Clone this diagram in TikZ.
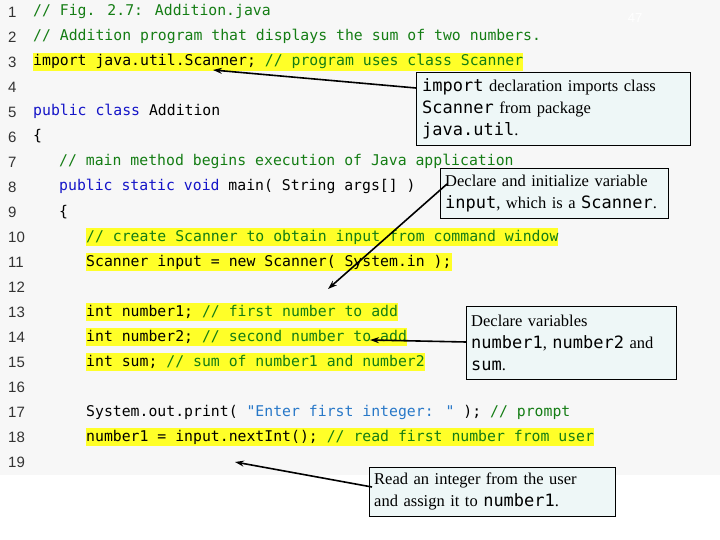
\documentclass[tikz,border=0pt]{standalone}
\usepackage{fontspec}
\setmainfont{Liberation Serif}
\newfontfamily\code{DejaVu Sans Mono}
\newfontfamily\lnf{Liberation Sans}
\usetikzlibrary{arrows.meta}
\definecolor{cbg}{RGB}{247,247,247}
\definecolor{cgreen}{RGB}{20,125,20}
\definecolor{cblue}{RGB}{20,20,200}
\definecolor{cstr}{RGB}{40,120,200}
\definecolor{hl}{RGB}{255,255,40}
\definecolor{boxbg}{RGB}{238,247,247}
\begin{document}
\begin{tikzpicture}[x=1pt,y=-1pt,
  ln/.style={anchor=west,font=\lnf\fontsize{15}{15}\selectfont,text=black!80,inner sep=0},
  cl/.style={anchor=west,font=\code\fontsize{14.8}{14}\selectfont,inner xsep=0,inner ysep=2pt,text height=11pt,text depth=3pt},
  hi/.style={cl,fill=hl},
  callout/.style={draw=black,fill=boxbg,align=left,anchor=north west,inner sep=5pt,font=\fontsize{16.5}{22}\selectfont},
  arr/.style={line width=1.6pt,-{Stealth[length=9pt,width=6pt]}}]
\newcommand\mc[1]{{\code\fontsize{17}{20}\selectfont #1}}
\useasboundingbox (0,0) rectangle (720,540);
\fill[cbg] (0,0) rectangle (720,475);
\node[text=white,font=\lnf\fontsize{13}{13}\selectfont] (pg) at (635,18) {47};
\foreach \i in {1,...,19} {\node[ln] (l\i) at (8,{12+25*(\i-1)}) {\i};}
\node[cl,text=cgreen] (c1) at (33,12) {// Fig. 2.7: Addition.java};
\node[cl,text=cgreen] (c2) at (33,37) {// Addition program that displays the sum of two numbers.};
\node[hi] (c3) at (33,62) {import java.util.Scanner; \textcolor{cgreen}{// program uses class Scanner}};
\node[cl] (c5) at (33,112) {\textcolor{cblue}{public class} Addition};
\node[cl] (c6) at (33,137) {\{};
\node[cl,text=cgreen] (c7) at (59,162) {// main method begins execution of Java application};
\node[cl] (c8) at (59,187) {\textcolor{cblue}{public static void} main( String args[] )};
\node[cl] (c9) at (59,212) {\{};
\node[hi,text=cgreen] (c10) at (86,237) {// create Scanner to obtain input from command window};
\node[hi] (c11) at (86,262) {Scanner input = new Scanner( System.in );};
\node[hi] (c13) at (86,312) {int number1; \textcolor{cgreen}{// first number to add}};
\node[hi] (c14) at (86,337) {int number2; \textcolor{cgreen}{// second number to add}};
\node[hi] (c15) at (86,362) {int sum; \textcolor{cgreen}{// sum of number1 and number2}};
\node[cl] (c17) at (86,412) {System.out.print( \textcolor{cstr}{"Enter first integer: "} ); \textcolor{cgreen}{// prompt}};
\node[hi] (c18) at (86,437) {number1 = input.nextInt(); \textcolor{cgreen}{// read first number from user}};
\node[callout,minimum width=274pt,minimum height=73pt,text width=262pt,inner ysep=3pt] (b1) at (416,72)
  {\mc{import} declaration imports class\\\mc{Scanner} from package\\\mc{java.util}.};
\node[callout,minimum width=228pt,minimum height=50pt,text width=218pt,inner ysep=3pt] (b2) at (440,168)
  {Declare and initialize variable\\\mc{input}, which is a \mc{Scanner}.};
\node[callout,minimum width=210pt,minimum height=73pt,text width=200pt,inner ysep=3pt] (b3) at (466,306)
  {Declare variables\\\mc{number1}, \mc{number2} and\\\mc{sum}.};
\node[callout,minimum width=246pt,minimum height=49pt,text width=236pt,inner ysep=3pt] (b4) at (369,467)
  {Read an integer from the user\\and assign it to \mc{number1}.};
\coordinate (t1) at (213,70);
\coordinate (t2) at (328,289);
\coordinate (t3) at (370,340);
\coordinate (t4) at (235,462);
\draw[arr] ([yshift=-16pt]b1.north west) -- (t1);
\draw[arr] ([xshift=7pt,yshift=-16pt]b2.north west) -- (t2);
\draw[arr] ([yshift=-36pt]b3.north west) -- (t3);
\draw[arr] ([xshift=3pt,yshift=-20pt]b4.north west) -- (t4);
\end{tikzpicture}
\end{document}
